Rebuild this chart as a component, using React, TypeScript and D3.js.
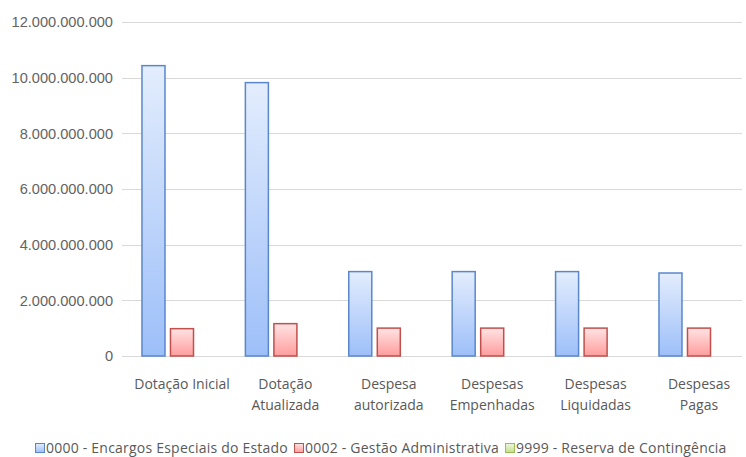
import { useEffect, useRef } from "react";
import * as d3 from "d3";

const categories = [
  ["Dotação Inicial"],
  ["Dotação", "Atualizada"],
  ["Despesa", "autorizada"],
  ["Despesas", "Empenhadas"],
  ["Despesas", "Liquidadas"],
  ["Despesas", "Pagas"],
];
const seriesNames = [
  "0000 - Encargos Especiais do Estado",
  "0002 - Gestão Administrativa",
  "9999 - Reserva de Contingência",
];
const encargos = [10.45e9, 9.84e9, 3.05e9, 3.05e9, 3.05e9, 3.0e9];
const gestao = [1.0e9, 1.18e9, 1.02e9, 1.02e9, 1.02e9, 1.02e9];
const reserva = [0, 0, 0, 0, 0, 0];
const yTicks = [0, 2e9, 4e9, 6e9, 8e9, 10e9, 12e9];

const palette = [
  { top: "#e3edfd", bottom: "#9dbff9", stroke: "#5a87cc" },
  { top: "#ffe3e3", bottom: "#ff9d9d", stroke: "#c0504d" },
  { top: "#eef7dc", bottom: "#c3e08a", stroke: "#9bbb59" },
];

export default function App() {
  const ref = useRef<SVGSVGElement>(null);

  useEffect(() => {
    const svg = d3.select(ref.current);
    svg.selectAll("*").remove();
    const font = "'Open Sans', sans-serif";
    const values = [encargos, gestao, reserva];

    const defs = svg.append("defs");
    palette.forEach((p, i) => {
      const g = defs
        .append("linearGradient")
        .attr("id", `grad${i}`)
        .attr("x1", 0)
        .attr("y1", 0)
        .attr("x2", 0)
        .attr("y2", 1);
      g.append("stop").attr("offset", "0%").attr("stop-color", p.top);
      g.append("stop").attr("offset", "100%").attr("stop-color", p.bottom);
    });

    // category bands: centers ~182 .. ~699
    const x0 = d3
      .scaleBand<number>()
      .domain(categories.map((_, i) => i))
      .range([130.3, 750.7])
      .paddingInner(0.216)
      .paddingOuter(0.108);
    const x1 = d3
      .scaleBand<number>()
      .domain([0, 1, 2])
      .range([0, x0.bandwidth()])
      .paddingInner(0.158);
    const y = d3.scaleLinear().domain([0, 12e9]).range([356, 22]);

    const fmt = (v: number) => d3.format(",")(v).replace(/,/g, ".");

    // grid
    svg
      .append("g")
      .selectAll("line")
      .data(yTicks)
      .join("line")
      .attr("x1", 122)
      .attr("x2", 742)
      .attr("y1", (d) => Math.round(y(d)) + 0.5)
      .attr("y2", (d) => Math.round(y(d)) + 0.5)
      .attr("stroke", "#d9d9d9")
      .attr("stroke-width", 1);

    svg
      .append("g")
      .selectAll("text")
      .data(yTicks)
      .join("text")
      .attr("x", 113)
      .attr("y", (d) => y(d))
      .attr("dy", "0.36em")
      .attr("text-anchor", "end")
      .attr("font-family", "'Liberation Sans', Arial, sans-serif")
      .attr("font-size", 14.6)
      .attr("fill", "#636363")
      .text(fmt);

    // bars
    const groups = svg
      .append("g")
      .selectAll("g")
      .data(categories.map((_, i) => i))
      .join("g")
      .attr("transform", (i) => `translate(${x0(i)},0)`);

    groups
      .selectAll("rect")
      .data((i) => values.map((s, k) => ({ k, v: s[i] })).filter((d) => d.v > 0))
      .join("rect")
      .attr("x", (d) => x1(d.k)! + 0.5)
      .attr("y", (d) => y(d.v) + 0.5)
      .attr("width", x1.bandwidth() - 1)
      .attr("height", (d) => y(0) - y(d.v) - 0.5)
      .attr("fill", (d) => `url(#grad${d.k})`)
      .attr("stroke", (d) => palette[d.k].stroke)
      .attr("stroke-width", 1.5);

    // category labels
    const labels = svg
      .append("g")
      .selectAll("text")
      .data(categories)
      .join("text")
      .attr("x", (_, i) => x0(i)! + x0.bandwidth() / 2)
      .attr("y", 389)
      .attr("text-anchor", "middle")
      .attr("font-family", font)
      .attr("font-size", 14)
      .attr("fill", "#595959");
    labels
      .selectAll("tspan")
      .data((d) => d)
      .join("tspan")
      .attr("x", function () {
        return (this.parentNode as SVGTextElement).getAttribute("x");
      })
      .attr("dy", (_, j) => (j === 0 ? 0 : 21))
      .text((d) => d);

    // legend
    const legend = svg.append("g").attr("transform", "translate(35,453)");
    let lx = 0;
    seriesNames.forEach((name, i) => {
      const item = legend.append("g").attr("transform", `translate(${lx},0)`);
      item
        .append("rect")
        .attr("x", 0.5)
        .attr("y", -9.5)
        .attr("width", 9)
        .attr("height", 9)
        .attr("fill", `url(#grad${i})`)
        .attr("stroke", palette[i].stroke);
      const t = item
        .append("text")
        .attr("x", 11)
        .attr("y", 0)
        .attr("font-family", font)
        .attr("font-size", 14)
        .attr("letter-spacing", 0.22)
        .attr("fill", "#595959")
        .text(name);
      const w = (t.node() as SVGTextElement).getComputedTextLength();
      lx += 11 + w + 6;
    });
  }, []);

  return (
    <svg
      ref={ref}
      width={746}
      height={457}
      style={{ position: "absolute", left: 0, top: 0, background: "#fff" }}
    />
  );
}
